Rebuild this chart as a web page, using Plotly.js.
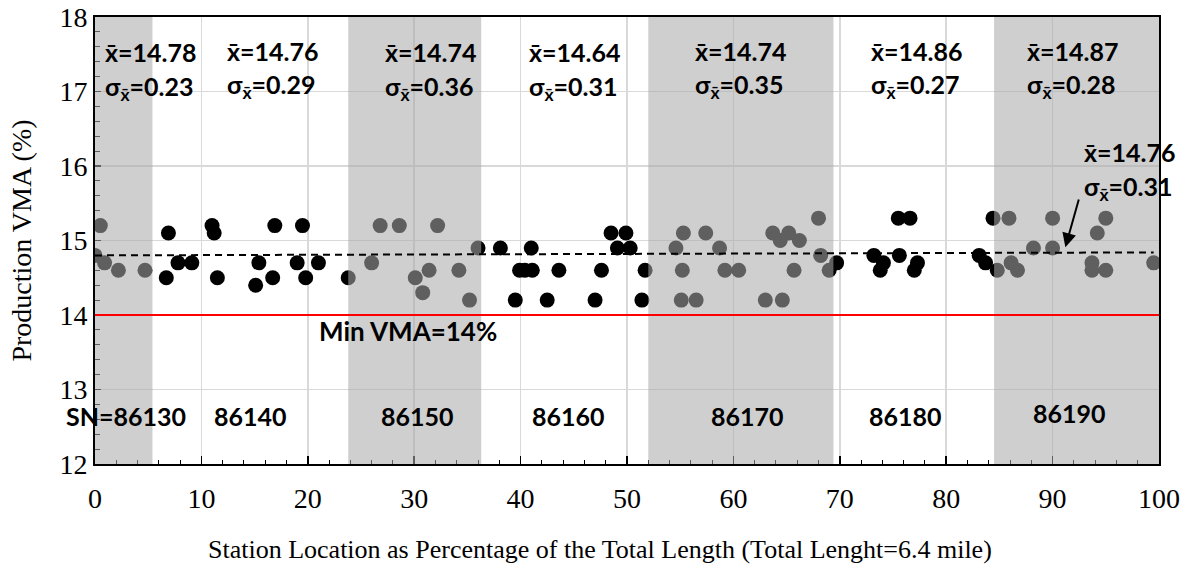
<!DOCTYPE html>
<html>
<head>
<meta charset="utf-8">
<script src="https://cdn.plot.ly/plotly-3.0.1.min.js"></script>
<style>html,body{margin:0;padding:0;background:#fff;}#chart{width:1188px;height:570px;}</style>
</head>
<body>
<div id="chart"></div>
<script>
// Station location (% of total length) and production VMA (%)
const stationPct = [
  0.0, 0.5, 0.9, 2.2, 4.7,
  6.9, 6.7, 7.8, 9.1, 11.0, 11.2, 11.5, 15.4, 15.1, 16.7, 16.9, 19.0, 19.5, 19.8, 21.0, 23.8,
  26.8, 28.6, 32.2, 26.0, 30.1, 31.4, 30.8, 34.2, 35.2, 36.0,
  38.1, 41.0, 39.9, 40.4, 41.1, 43.6, 47.6, 39.5, 42.5, 47.0, 48.5, 49.9, 49.1, 50.3, 51.7, 51.4,
  55.3, 57.4, 54.6, 58.7, 55.2, 59.2, 60.5, 55.1, 56.5, 63.0, 64.6, 63.7, 65.2, 64.4, 66.2, 65.7, 68.0, 68.2, 69.0, 69.7,
  73.2, 73.8, 74.1, 75.6, 75.5, 76.6, 77.3, 77.0,
  83.1, 83.7, 84.4, 85.9, 84.8, 86.1, 86.7, 88.2, 90.0, 90.0, 95.0, 94.2, 93.7, 93.7, 95.0, 99.5
];
const vma = [
  14.8, 15.2, 14.7, 14.6, 14.6,
  15.1, 14.5, 14.7, 14.7, 15.2, 15.1, 14.5, 14.7, 14.4, 14.5, 15.2, 14.7, 15.2, 14.5, 14.7, 14.5,
  15.2, 15.2, 15.2, 14.7, 14.5, 14.6, 14.3, 14.6, 14.2, 14.9,
  14.9, 14.9, 14.6, 14.6, 14.6, 14.6, 14.6, 14.2, 14.2, 14.2, 15.1, 15.1, 14.9, 14.9, 14.6, 14.2,
  15.1, 15.1, 14.9, 14.9, 14.6, 14.6, 14.6, 14.2, 14.2, 14.2, 14.2, 15.1, 15.1, 15.0, 15.0, 14.6, 15.3, 14.8, 14.6, 14.7,
  14.8, 14.6, 14.7, 14.8, 15.3, 15.3, 14.7, 14.6,
  14.8, 14.7, 15.3, 15.3, 14.6, 14.7, 14.6, 14.9, 15.3, 14.9, 15.3, 15.1, 14.7, 14.6, 14.6, 14.7
];

// Linear trend of all data (ends)
const trendX = [0, 99.5];
const trendY = [14.80, 14.84];

// Minimum VMA spec
const minVMA = 14;

// Station sections (shaded alternately)
const bandStart = [0, 23.8, 52.0, 84.5];
const bandEnd   = [5.4, 36.3, 69.4, 100];

const stationLabels = ['SN=86130', '86140', '86150', '86160', '86170', '86180', '86190'];
const stationLabelX = [2.9, 14.6, 30.3, 44.5, 61.3, 76.2, 91.6];
const stationLabelY = [12.65, 12.65, 12.65, 12.65, 12.65, 12.65, 12.68];

const sectionMeans = ['14.78', '14.76', '14.74', '14.64', '14.74', '14.86', '14.87', '14.76'];
const sectionSD    = ['0.23', '0.29', '0.36', '0.31', '0.35', '0.27', '0.28', '0.31'];
const statX   = [0.75, 12.2, 27.1, 40.6, 56.2, 72.7, 87.4, 92.8];
const statY1  = [17.53, 17.55, 17.53, 17.53, 17.55, 17.55, 17.55, 16.19];
const statY2  = [17.05, 17.07, 17.05, 17.05, 17.07, 17.07, 17.07, 15.70];

const xTitle = 'Station Location as Percentage of the Total Length (Total Lenght=6.4 mile)';
const yTitle = 'Production VMA (%)';

const sansB = 'Lato, "Open Sans", sans-serif';
const serif = '"Liberation Serif", "Times New Roman", serif';
const XBAR = 'x\u0304';

const traces = [{
  type: 'scatter', mode: 'markers',
  x: stationPct, y: vma,
  marker: {size: 15, color: '#000000', line: {width: 0}},
  showlegend: false, hoverinfo: 'x+y'
}];

const shapes = [];
for (let i = 0; i < bandStart.length; i++) {
  shapes.push({type: 'rect', xref: 'x', yref: 'paper', x0: bandStart[i], x1: bandEnd[i], y0: 0, y1: 1,
    fillcolor: 'rgb(170,170,170)', opacity: 0.56, line: {width: 0}, layer: 'above'});
}
shapes.push({type: 'line', xref: 'paper', yref: 'y', x0: 0, x1: 1, y0: minVMA, y1: minVMA,
  line: {color: '#ff0000', width: 2}, layer: 'above'});
shapes.push({type: 'line', xref: 'x', yref: 'y', x0: trendX[0], x1: trendX[1], y0: trendY[0], y1: trendY[1],
  line: {color: '#000000', width: 2, dash: '7px,5px'}, layer: 'above'});

const annotations = [];
for (let i = 0; i < sectionMeans.length; i++) {
  annotations.push({xref: 'x', yref: 'y', x: statX[i], y: statY1[i], xanchor: 'left', yanchor: 'middle',
    text: '<b>' + XBAR + '=' + sectionMeans[i] + '</b>', showarrow: false,
    font: {family: sansB, size: 25, color: '#000'}});
  annotations.push({xref: 'x', yref: 'y', x: statX[i], y: statY2[i], xanchor: 'left', yanchor: 'middle',
    text: '<b>σ<sub>' + XBAR + '</sub>=' + sectionSD[i] + '</b>', showarrow: false,
    font: {family: sansB, size: 25, color: '#000'}});
}
for (let i = 0; i < stationLabels.length; i++) {
  annotations.push({xref: 'x', yref: 'y', x: stationLabelX[i], y: stationLabelY[i], xanchor: 'center', yanchor: 'middle',
    text: '<b>' + stationLabels[i] + '</b>', showarrow: false,
    font: {family: sansB, size: 25, color: '#000'}});
}
annotations.push({xref: 'x', yref: 'y', x: 20.9, y: 13.79, xanchor: 'left', yanchor: 'middle',
  text: '<b>Min VMA=' + minVMA + '%</b>', showarrow: false,
  font: {family: sansB, size: 26, color: '#000'}});
// arrow pointing to overall trend
annotations.push({xref: 'x', yref: 'y', axref: 'x', ayref: 'y', x: 91.2, y: 14.91, ax: 92.5, ay: 15.57,
  text: '', showarrow: true, arrowhead: 2, arrowsize: 1.4, arrowwidth: 2, arrowcolor: '#000'});
// x-axis title (offset left of plot centre as in the original)
annotations.push({xref: 'paper', yref: 'paper', x: 0.475, y: -0.192, xanchor: 'center', yanchor: 'middle',
  text: xTitle, showarrow: false, font: {family: serif, size: 26, color: '#000'}});

const layout = {
  width: 1188, height: 570,
  margin: {l: 95, r: 29, t: 17, b: 106},
  paper_bgcolor: '#ffffff', plot_bgcolor: '#ffffff',
  showlegend: false,
  xaxis: {
    range: [0, 100], dtick: 10, tick0: 0,
    showgrid: true, gridcolor: '#d9d9d9', gridwidth: 1.5,
    zeroline: false,
    showline: true, linecolor: '#000', linewidth: 2, mirror: true,
    ticks: 'inside', ticklen: 8, tickwidth: 1.5, tickcolor: '#000',
    minor: {dtick: 2, ticks: 'inside', ticklen: 4, tickwidth: 1, tickcolor: '#000', showgrid: false},
    tickfont: {family: serif, size: 28, color: '#000'},
    ticklabelstandoff: 8
  },
  yaxis: {
    range: [12, 18], dtick: 1, tick0: 12,
    showgrid: true, gridcolor: '#d9d9d9', gridwidth: 1.5,
    zeroline: false,
    showline: true, linecolor: '#000', linewidth: 2, mirror: true,
    ticks: 'inside', ticklen: 6, tickwidth: 1.5, tickcolor: '#000',
    minor: {dtick: 0.2, ticks: 'inside', ticklen: 5, tickwidth: 1, tickcolor: '#000', showgrid: false},
    tickfont: {family: serif, size: 28, color: '#000'},
    title: {text: yTitle, font: {family: serif, size: 28, color: '#000'}, standoff: 20}
  },
  shapes: shapes,
  annotations: annotations
};

Plotly.newPlot('chart', traces, layout, {displayModeBar: false, staticPlot: true});
</script>
</body>
</html>
